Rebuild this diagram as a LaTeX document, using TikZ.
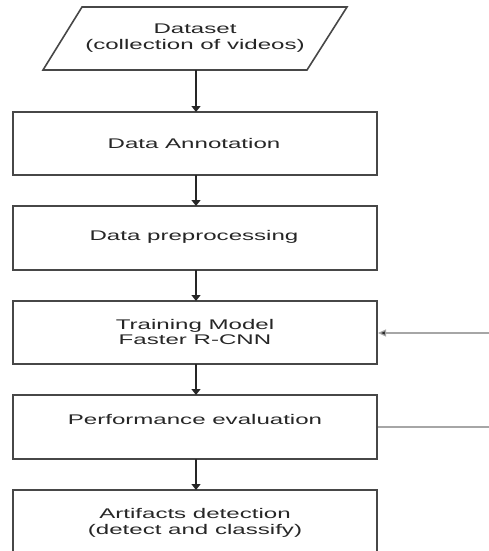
\documentclass[tikz,border=0pt]{standalone}
\usepackage{fontspec}
\setmainfont[FakeStretch=1.72]{Liberation Sans}
\usetikzlibrary{arrows.meta}
\begin{document}
\begin{tikzpicture}[x=1pt,y=-1pt,
  boxline/.style={draw=black!72,line width=1.6pt},
  lbl/.style={font=\fontsize{14}{15.5}\selectfont,text=black!85,align=center,inner sep=0pt},
  flow/.style={draw=black!85,line width=1.3pt,-{Triangle[length=6pt,width=9pt]}},
  side/.style={draw=black!35,line width=1.2pt}]
\useasboundingbox (0,0) rectangle (489,551);
\clip (0,0) rectangle (489,551);
% parallelogram
\draw[boxline] (82,7) -- (347,7) -- (307,70) -- (43,70) -- cycle;
\coordinate (dsb) at (196,70);
\node[lbl] (ds) at (195,38) {Dataset\\(collection of videos)};
% boxes
\draw[boxline] (13,112) rectangle (377,175);
\node[lbl] (b1t) at (194,143) {Data Annotation};
\draw[boxline] (13,206) rectangle (377,270);
\node[lbl] (b2t) at (194,237) {Data preprocessing};
\draw[boxline] (13,301) rectangle (377,364);
\node[lbl] (b3t) at (195,332) {Training Model\\Faster R-CNN};
\draw[boxline] (13,395) rectangle (377,459);
\node[lbl] (b4t) at (195,419) {Performance evaluation};
\draw[boxline] (13,560) -- (13,490) -- (377,490) -- (377,560);
\node[lbl] (b5t) at (195,523) {Artifacts detection\\(detect and classify)};
% coordinates for connectors
\coordinate (b1top) at (196,112); \coordinate (b1bot) at (196,175);
\coordinate (b2top) at (196,206); \coordinate (b2bot) at (196,270);
\coordinate (b3top) at (196,301); \coordinate (b3bot) at (196,364);
\coordinate (b3r) at (378,333);
\coordinate (b4top) at (196,395); \coordinate (b4bot) at (196,459);
\coordinate (b4r) at (378,427);
\coordinate (b5top) at (196,490);
\coordinate (inR) at (489,333);
\coordinate (outR) at (489,427);
\draw[flow] (dsb) -- (b1top);
\draw[flow] (b1bot) -- (b2top);
\draw[flow] (b2bot) -- (b3top);
\draw[flow] (b3bot) -- (b4top);
\draw[flow] (b4bot) -- (b5top);
\draw[side,-{Triangle[length=8pt,width=7pt,fill=black!85]}] (inR) -- (b3r);
\draw[side] (b4r) -- (outR);
\end{tikzpicture}
\end{document}
